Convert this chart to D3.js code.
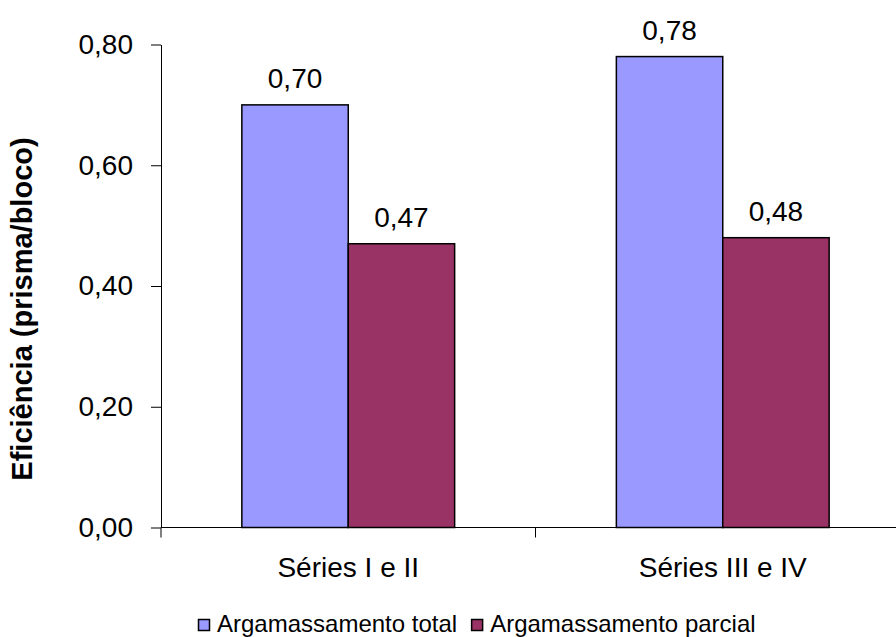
<!DOCTYPE html>
<html>
<head>
<meta charset="utf-8">
<script src="https://cdn.jsdelivr.net/npm/d3@7"></script>
<style>
  html, body { margin: 0; padding: 0; background: #fff; }
  svg { display: block; font-family: "Liberation Sans", Arial, sans-serif; }
</style>
</head>
<body>
<svg id="chart" width="896" height="637"></svg>
<script>
// Data
const categories = ["Séries I e II", "Séries III e IV"];
const seriesNames = ["Argamassamento total", "Argamassamento parcial"];
const totalValues = [0.70, 0.78];
const partialValues = [0.47, 0.48];
const yTicks = [0, 0.2, 0.4, 0.6, 0.8];
const yTitle = "Eficiência (prisma/bloco)";

const colors = ["#9999FF", "#993366"];
const seriesValues = [totalValues, partialValues];

const locale = d3.formatLocale({ decimal: ",", thousands: ".", grouping: [3], currency: ["R$", ""] });
const fmt = locale.format(".2f");

const svg = d3.select("#chart");

const plot = { left: 161, right: 910, top: 44.5, bottom: 527.5 };

const y = d3.scaleLinear().domain([0, 0.8]).range([plot.bottom, plot.top]);
const x0 = d3.scaleBand().domain(categories).range([plot.left, plot.right]).paddingInner(0).paddingOuter(0);
const x1 = d3.scaleBand().domain(seriesNames).range([0, x0.bandwidth()]).paddingInner(0).paddingOuter(0.76);

// Y axis
const yAxis = d3.axisLeft(y)
  .tickValues(yTicks)
  .tickSize(10)
  .tickSizeOuter(0)
  .tickPadding(18)
  .tickFormat(fmt);

const gy = svg.append("g")
  .attr("transform", `translate(${plot.left},0)`)
  .call(yAxis);
gy.select(".domain").attr("stroke", "#000");
gy.selectAll(".tick line").attr("stroke", "#000");
gy.selectAll(".tick text")
  .attr("font-size", 28)
  .attr("font-family", "Liberation Sans, Arial, sans-serif")
  .attr("fill", "#000");

// X axis: baseline and boundary ticks between categories
const edges = categories.map(c => x0(c)).concat([x0(categories[categories.length - 1]) + x0.bandwidth()]);
const gx = svg.append("g");
gx.append("line")
  .attr("x1", plot.left).attr("x2", plot.right)
  .attr("y1", y(0)).attr("y2", y(0))
  .attr("stroke", "#000");
gx.selectAll("line.xtick")
  .data(edges)
  .join("line")
  .attr("class", "xtick")
  .attr("x1", d => d).attr("x2", d => d)
  .attr("y1", y(0)).attr("y2", y(0) + 10)
  .attr("stroke", "#000");

gx.selectAll("text.cat")
  .data(categories)
  .join("text")
  .attr("class", "cat")
  .attr("x", d => x0(d) + x0.bandwidth() / 2)
  .attr("y", 577)
  .attr("text-anchor", "middle")
  .attr("font-size", 28)
  .attr("fill", "#000")
  .text(d => d);

// Bars
const groups = svg.append("g").selectAll("g")
  .data(categories)
  .join("g")
  .attr("transform", d => `translate(${x0(d)},0)`);

groups.selectAll("rect")
  .data((c, i) => seriesNames.map((s, k) => ({ s, k, v: seriesValues[k][i] })))
  .join("rect")
  .attr("x", d => x1(d.s))
  .attr("y", d => y(d.v))
  .attr("width", x1.bandwidth())
  .attr("height", d => y(0) - y(d.v))
  .attr("fill", d => colors[d.k])
  .attr("stroke", "#000")
  .attr("stroke-width", 1.5);

groups.selectAll("text")
  .data((c, i) => seriesNames.map((s, k) => ({ s, k, v: seriesValues[k][i] })))
  .join("text")
  .attr("x", d => x1(d.s) + x1.bandwidth() / 2)
  .attr("y", d => y(d.v) - 17)
  .attr("text-anchor", "middle")
  .attr("font-size", 28)
  .attr("fill", "#000")
  .text(d => fmt(d.v));

// Y axis title
svg.append("text")
  .attr("transform", "translate(32,309) rotate(-90)")
  .attr("text-anchor", "middle")
  .attr("font-size", 29)
  .attr("font-weight", "bold")
  .attr("fill", "#000")
  .text(yTitle);

// Legend
const legend = svg.append("g").attr("transform", "translate(198,619)");
let lx = 0;
seriesNames.forEach((name, k) => {
  const item = legend.append("g").attr("transform", `translate(${lx},0)`);
  item.append("rect")
    .attr("x", 0.5).attr("y", 0.5)
    .attr("width", 11).attr("height", 11)
    .attr("fill", colors[k])
    .attr("stroke", "#000")
    .attr("stroke-width", 1.5);
  const t = item.append("text")
    .attr("x", 19)
    .attr("y", 13)
    .attr("font-size", 24)
    .attr("fill", "#000")
    .text(name);
  lx += 19 + t.node().getComputedTextLength() + 14;
});
</script>
</body>
</html>
